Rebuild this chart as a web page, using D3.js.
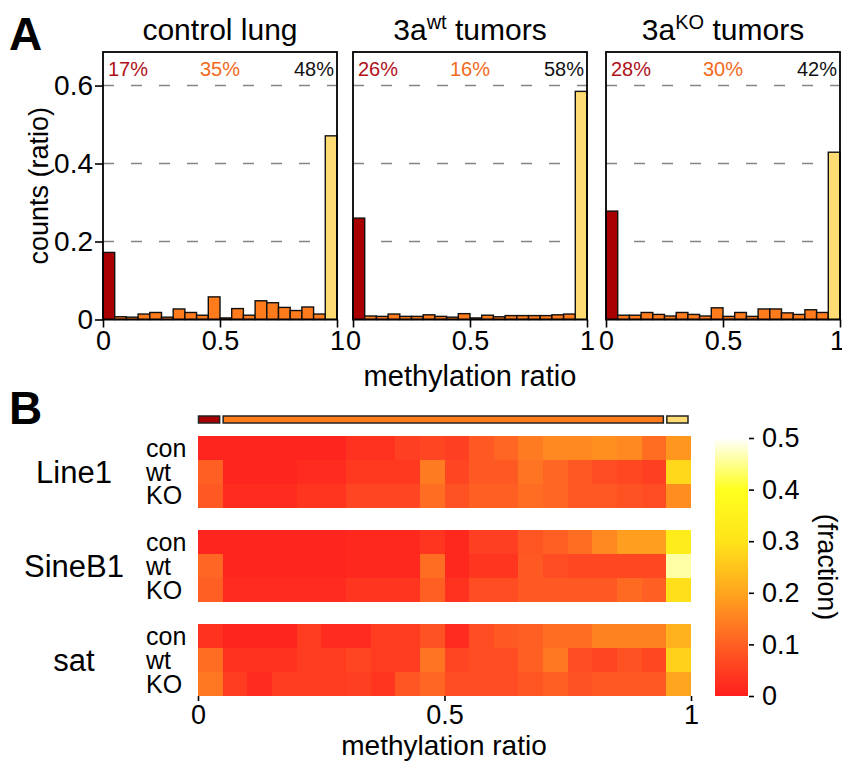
<!DOCTYPE html>
<html>
<head>
<meta charset="utf-8">
<script src="https://cdn.jsdelivr.net/npm/d3@7"></script>
<style>
  body { margin: 0; background: #fff; }
  text { font-family: "Liberation Sans", Arial, sans-serif; fill: #000; }
</style>
</head>
<body>
<script>
// ---- panel A data: histogram of methylation ratio, 20 bins of 0.05
var controlLung = [0.172, 0.007, 0.006, 0.014, 0.018, 0.006, 0.027, 0.018, 0.011, 0.058,
                   0.004, 0.028, 0.011, 0.048, 0.043, 0.031, 0.023, 0.032, 0.014, 0.471];
var wtTumors    = [0.260, 0.009, 0.008, 0.014, 0.008, 0.008, 0.012, 0.008, 0.006, 0.015,
                   0.004, 0.011, 0.007, 0.010, 0.010, 0.010, 0.010, 0.012, 0.014, 0.585];
var koTumors    = [0.278, 0.011, 0.011, 0.018, 0.013, 0.009, 0.018, 0.013, 0.009, 0.030,
                   0.008, 0.018, 0.008, 0.027, 0.027, 0.017, 0.013, 0.025, 0.018, 0.429];
var histTitles  = [["control lung", "", ""], ["3a", "wt", " tumors"], ["3a", "KO", " tumors"]];
var percents    = [["17%", "35%", "48%"], ["26%", "16%", "58%"], ["28%", "30%", "42%"]];
var histYTicks  = [0, 0.2, 0.4, 0.6];
var ratioTicks  = [0, 0.5, 1];

// ---- panel B data: fraction per bin, rows con / wt / KO
var groups  = ["Line1", "SineB1", "sat"];
var samples = ["con", "wt", "KO"];
var line1Con  = [0.01, 0.01, 0.01, 0.01, 0.01, 0.01, 0.03, 0.03, 0.05, 0.06, 0.05, 0.09, 0.11, 0.14, 0.16, 0.16, 0.17, 0.16, 0.12, 0.18];
var line1Wt   = [0.10, 0.01, 0.01, 0.01, 0.02, 0.02, 0.04, 0.04, 0.04, 0.14, 0.06, 0.09, 0.09, 0.13, 0.11, 0.09, 0.07, 0.065, 0.05, 0.28];
var line1Ko   = [0.09, 0.02, 0.02, 0.02, 0.035, 0.035, 0.06, 0.06, 0.06, 0.12, 0.08, 0.10, 0.10, 0.12, 0.11, 0.09, 0.09, 0.08, 0.07, 0.165];
var sineB1Con = [0.01, 0.01, 0.01, 0.01, 0.01, 0.01, 0.015, 0.015, 0.015, 0.035, 0.015, 0.05, 0.05, 0.085, 0.10, 0.12, 0.16, 0.19, 0.19, 0.33];
var sineB1Wt  = [0.11, 0.01, 0.01, 0.01, 0.01, 0.01, 0.015, 0.015, 0.015, 0.12, 0.015, 0.035, 0.035, 0.09, 0.07, 0.065, 0.065, 0.065, 0.065, 0.46];
var sineB1Ko  = [0.10, 0.02, 0.02, 0.02, 0.02, 0.02, 0.035, 0.035, 0.035, 0.10, 0.03, 0.07, 0.07, 0.09, 0.09, 0.09, 0.09, 0.115, 0.10, 0.29];
var satCon    = [0.03, 0.01, 0.01, 0.01, 0.045, 0.02, 0.02, 0.045, 0.045, 0.08, 0.02, 0.07, 0.09, 0.10, 0.12, 0.12, 0.15, 0.15, 0.15, 0.22];
var satWt     = [0.12, 0.03, 0.03, 0.03, 0.045, 0.045, 0.06, 0.045, 0.045, 0.13, 0.06, 0.07, 0.07, 0.10, 0.135, 0.07, 0.06, 0.08, 0.065, 0.27];
var satKo     = [0.135, 0.045, 0.02, 0.045, 0.045, 0.045, 0.05, 0.035, 0.085, 0.11, 0.07, 0.07, 0.07, 0.085, 0.10, 0.08, 0.09, 0.09, 0.09, 0.20];
var colorTicks = [0, 0.1, 0.2, 0.3, 0.4, 0.5];
var segments   = [[0, 0.05], [0.05, 0.95], [0.95, 1]];

var histData = [controlLung, wtTumors, koTumors];
var heatData = [[line1Con, line1Wt, line1Ko], [sineB1Con, sineB1Wt, sineB1Ko], [satCon, satWt, satKo]];

var binW = 0.05;
var red = "#a80000", orange = "#ff7b1c", yellow = "#ffdc73";
var pctColors = ["#b0101a", "#f26a1b", "#111"];
function binColor(i) { return i === 0 ? red : (i === 19 ? yellow : orange); }

var svg = d3.select("body").append("svg")
    .attr("width", 842)
    .attr("height", 763);

// ================= A =================
svg.append("text").attr("x", 9).attr("y", 50)
   .style("font-size", "46px").style("font-weight", "bold").text("A");

var panelW = 234, panelH = 267.5, panelTop = 52;
var panelLeft = [103, 353, 606];

var xHist = d3.scaleLinear().domain([0, 1]).range([0, panelW]);
var yHist = d3.scaleLinear().domain([0, 0.686]).range([panelH, 0]);

histData.forEach(function(vals, p) {
  var g = svg.append("g")
      .attr("transform", "translate(" + panelLeft[p] + "," + panelTop + ")");

  // dashed grid
  g.selectAll("line.grid")
   .data(histYTicks.slice(1))
   .enter()
   .append("line")
   .attr("class", "grid")
   .attr("x1", 0).attr("x2", panelW)
   .attr("y1", function(d) { return yHist(d); })
   .attr("y2", function(d) { return yHist(d); })
   .attr("stroke", "#858585")
   .attr("stroke-width", 1.5)
   .attr("stroke-dasharray", "11,17");

  // bars
  g.selectAll("rect.bar")
   .data(vals)
   .enter()
   .append("rect")
   .attr("class", "bar")
   .attr("x", function(d, i) { return xHist(i * binW); })
   .attr("y", function(d) { return yHist(d); })
   .attr("width", xHist(binW) - xHist(0))
   .attr("height", function(d) { return panelH - yHist(d); })
   .attr("fill", function(d, i) { return binColor(i); })
   .attr("stroke", "#111")
   .attr("stroke-width", 1.4);

  // frame
  g.append("rect")
   .attr("width", panelW).attr("height", panelH)
   .attr("fill", "none").attr("stroke", "#000").attr("stroke-width", 1.8);

  // x axis
  var xa = g.append("g")
      .attr("transform", "translate(0," + panelH + ")")
      .call(d3.axisBottom(xHist).tickValues(ratioTicks).tickFormat(d3.format("")).tickSize(8).tickPadding(3));
  xa.select(".domain").remove();
  xa.selectAll("line").attr("stroke-width", 1.6);
  xa.selectAll("text").style("font-size", "27px").attr("font-family", null);
  // keep the last "1" inside the page
  if (p === 2) {
    xa.selectAll("text").filter(function(d) { return d === 1; }).attr("dx", -3);
  }

  if (p === 0) {
    var ya = g.append("g")
        .call(d3.axisLeft(yHist).tickValues(histYTicks)
          .tickFormat(function(d) { return d === 0 ? "0" : d3.format(".1f")(d); })
          .tickSize(8).tickPadding(2));
    ya.select(".domain").remove();
    ya.selectAll("line").attr("stroke-width", 1.6);
    ya.selectAll("text").style("font-size", "28px").attr("font-family", null);
  }

  // percent labels
  var anchors = ["start", "middle", "end"];
  var px = [5, panelW / 2, panelW - 3];
  g.selectAll("text.pct")
   .data(percents[p])
   .enter()
   .append("text")
   .attr("class", "pct")
   .attr("x", function(d, i) { return px[i]; })
   .attr("y", 24)
   .attr("text-anchor", function(d, i) { return anchors[i]; })
   .style("font-size", "20px")
   .style("fill", function(d, i) { return pctColors[i]; })
   .text(function(d) { return d; });

  // title
  var t = g.append("text")
      .attr("x", panelW / 2)
      .attr("y", -12)
      .attr("text-anchor", "middle")
      .style("font-size", "30px");
  t.append("tspan").text(histTitles[p][0]);
  if (histTitles[p][1]) {
    t.append("tspan").attr("dy", -11).style("font-size", "20px").text(histTitles[p][1]);
    t.append("tspan").attr("dy", 11).text(histTitles[p][2]);
  }
});

svg.append("text")
   .attr("transform", "translate(48," + (panelTop + panelH / 2) + ") rotate(-90)")
   .attr("text-anchor", "middle")
   .style("font-size", "27px")
   .text("counts (ratio)");

svg.append("text")
   .attr("x", 470).attr("y", 386)
   .attr("text-anchor", "middle")
   .style("font-size", "29px")
   .text("methylation ratio");

// ================= B =================
svg.append("text").attr("x", 9).attr("y", 424)
   .style("font-size", "46px").style("font-weight", "bold").text("B");

var xHeat = d3.scaleLinear().domain([0, 1]).range([198, 691]);
var yGroup = d3.scaleBand().domain(groups).range([436, 696]).paddingInner(0.241);
var yRow = d3.scaleBand().domain(samples).range([0, yGroup.bandwidth()]);

var color = d3.scaleLinear()
    .domain(colorTicks)
    .range(["#ff1e1e", "#ff5f23", "#ffa51e", "#ffe41a", "#ffff1e", "#ffffff"]);

// top segment bars
svg.selectAll("rect.seg")
   .data(segments)
   .enter()
   .append("rect")
   .attr("class", "seg")
   .attr("x", function(d) { return xHeat(d[0]) + 0.5; })
   .attr("y", 416)
   .attr("width", function(d) { return xHeat(d[1]) - xHeat(d[0]) - 3.5; })
   .attr("height", 7)
   .attr("fill", function(d, i) { return [red, orange, yellow][i]; })
   .attr("stroke", "#222")
   .attr("stroke-width", 1.5);

heatData.forEach(function(rows, gi) {
  var g = svg.append("g")
      .attr("transform", "translate(0," + yGroup(groups[gi]) + ")");

  rows.forEach(function(vals, ri) {
    g.selectAll("rect.r" + ri)
     .data(vals)
     .enter()
     .append("rect")
     .attr("class", "r" + ri)
     .attr("x", function(d, i) { return xHeat(i * binW); })
     .attr("y", yRow(samples[ri]))
     .attr("width", xHeat(binW) - xHeat(0) + 0.3)
     .attr("height", yRow.bandwidth() + 0.3)
     .attr("fill", function(d) { return color(d); })
     .attr("shape-rendering", "crispEdges");
  });

  g.selectAll("text.sample")
   .data(samples)
   .enter()
   .append("text")
   .attr("class", "sample")
   .attr("x", 146)
   .attr("y", function(d) { return yRow(d) + yRow.bandwidth() / 2; })
   .attr("dy", "0.35em")
   .style("font-size", "25px")
   .text(function(d) { return d; });

  g.append("text")
   .attr("x", 74)
   .attr("y", yGroup.bandwidth() / 2)
   .attr("dy", "0.35em")
   .attr("text-anchor", "middle")
   .style("font-size", "31px")
   .text(groups[gi]);
});

var xh = svg.append("g")
    .attr("transform", "translate(0,696)")
    .call(d3.axisBottom(xHeat).tickValues(ratioTicks).tickFormat(d3.format("")).tickSize(5).tickPadding(4));
xh.select(".domain").remove();
xh.selectAll("line").attr("stroke-width", 1.6);
xh.selectAll("text").style("font-size", "27px").attr("font-family", null);

svg.append("text")
   .attr("x", 444).attr("y", 755)
   .attr("text-anchor", "middle")
   .style("font-size", "28px")
   .text("methylation ratio");

// colour bar
var cScale = d3.scaleLinear().domain([0, 0.5]).range([696, 438]);
var grad = svg.append("defs").append("linearGradient")
    .attr("id", "cbar")
    .attr("x1", 0).attr("y1", 1).attr("x2", 0).attr("y2", 0);
grad.selectAll("stop")
    .data(colorTicks)
    .enter()
    .append("stop")
    .attr("offset", function(d) { return d / 0.5; })
    .attr("stop-color", function(d) { return color(d); });

svg.append("rect")
   .attr("x", 715).attr("y", cScale(0.5))
   .attr("width", 33).attr("height", cScale(0) - cScale(0.5))
   .attr("fill", "url(#cbar)");

var ca = svg.append("g")
    .attr("transform", "translate(749,0)")
    .call(d3.axisRight(cScale).tickValues(colorTicks).tickFormat(function(d) { return d === 0 ? "0" : d3.format(".1f")(d); }).tickSize(5).tickPadding(8));
ca.select(".domain").remove();
ca.selectAll("line").attr("stroke-width", 1.6);
ca.selectAll("text").style("font-size", "27px").attr("font-family", null);

svg.append("text")
   .attr("transform", "translate(818,567) rotate(90)")
   .attr("text-anchor", "middle")
   .style("font-size", "27px")
   .text("(fraction)");
</script>
</body>
</html>
